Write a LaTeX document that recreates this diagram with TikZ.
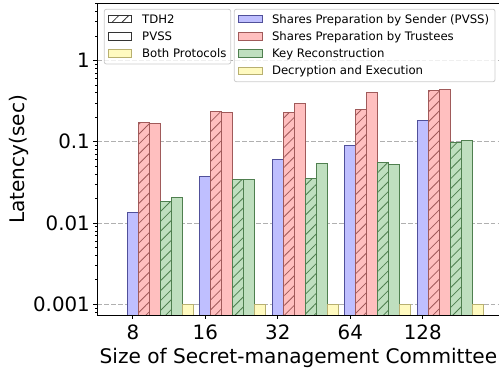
\documentclass[tikz,border=0pt]{standalone}
\usepackage{fontspec}
\setmainfont{DejaVu Sans}
\usetikzlibrary{patterns.meta}
\definecolor{bfill}{HTML}{BFBFFF}
\definecolor{bedge}{HTML}{50509A}
\definecolor{rfill}{HTML}{FFBFBF}
\definecolor{redge}{HTML}{A05A5A}
\definecolor{gfill}{HTML}{BFDFBF}
\definecolor{gedge}{HTML}{4F7F4F}
\definecolor{yfill}{HTML}{FFFAC0}
\definecolor{yedge}{HTML}{B8B070}
\definecolor{gridc}{HTML}{B0B0B0}
\definecolor{legc}{HTML}{CCCCCC}
\newcommand\mybar[3]{\draw[#3] (#1,315.3) rectangle ({#1+11},#2);}
\begin{document}
\begin{tikzpicture}[x=1pt,y=-1pt,
  barB/.style={draw=bedge,fill=bfill,line width=0.9pt},
  barRH/.style={draw=redge,preaction={fill=rfill},pattern={Lines[angle=45,distance=7pt,line width=0.8pt]},pattern color=redge,line width=0.9pt},
  barR/.style={draw=redge,fill=rfill,line width=0.9pt},
  barGH/.style={draw=gedge,preaction={fill=gfill},pattern={Lines[angle=45,distance=7pt,line width=0.8pt]},pattern color=gedge,line width=0.9pt},
  barG/.style={draw=gedge,fill=gfill,line width=0.9pt},
  barY/.style={draw=yedge,fill=yfill,line width=0.9pt},
  gridl/.style={gridc,line width=0.8pt,dash pattern=on 4.8pt off 2.1pt},
  tickl/.style={font=\fontsize{19.8}{23}\selectfont,inner sep=0pt},
  axl/.style={font=\fontsize{20.1}{23}\selectfont,inner sep=0pt},
  legbox/.style={draw=legc,fill=white,fill opacity=0.8,text opacity=1,rounded corners=2pt,line width=0.8pt,inner sep=0pt},
  legpatch/.style={minimum width=23.3pt,minimum height=7.5pt,inner sep=0pt,line width=0.9pt},
  legtext/.style={font=\fontsize{11.7}{14}\selectfont,inner sep=0pt,anchor=base west},
  ]
\useasboundingbox (0,0) rectangle (499,372);
\clip (0,0) rectangle (499,372);
% grid lines
\foreach \e in {0,1,2,3}{
  \pgfmathsetmacro\yy{304.3-81.3*\e}
  \draw[gridl] (97.3,\yy) -- (518,\yy);
}
% bars
\foreach \g/\a/\b/\c/\d/\f in {0/212.3/122.3/123/201/197.7,1/176.7/111.3/112/179.3/179,2/159.3/112.3/103/178.3/163.7,3/145.3/109.3/92.7/162/164.3,4/120.3/90.7/89/142.3/140.3}{
  \pgfmathsetmacro\xx{127.3+72.5*\g}
  \mybar{\xx}{\a}{barB}
  \mybar{\xx+11}{\b}{barRH}
  \mybar{\xx+22}{\c}{barR}
  \mybar{\xx+33}{\d}{barGH}
  \mybar{\xx+44}{\f}{barG}
  \mybar{\xx+55}{304.3}{barY}
}
% spines
\draw[line width=1.1pt] (518,3.3) -- (97.3,3.3) -- (97.3,315.3) -- (518,315.3);
% y ticks major
\foreach \e/\lab in {0/0.001,1/0.01,2/0.1,3/1}{
  \pgfmathsetmacro\yy{304.3-81.3*\e}
  \draw[line width=0.9pt] (97.3,\yy) -- (93.3,\yy);
  \node[tickl,anchor=base east] (yl\e) at (90,\yy+7.1) {\lab};
}
% y ticks minor
\foreach \d in {-4,-3,-2,-1,0}{
  \foreach \m in {2,...,9}{
    \pgfmathsetmacro\lv{\d+log10(\m)}
    \pgfmathsetmacro\yy{304.3-81.3*(\lv+3)}
    \pgfmathparse{(\lv>-3.135 && \lv<0.7) ? 1 : 0}
    \ifnum\pgfmathresult=1
      \draw[line width=0.7pt] (97.3,\yy) -- (95.3,\yy);
    \fi
  }
}
% x ticks
\foreach \g/\lab in {0/8,1/16,2/32,3/64,4/128}{
  \pgfmathsetmacro\xx{132.8+72.5*\g}
  \draw[line width=0.9pt] (\xx,315.3) -- (\xx,319.3);
  \node[tickl,anchor=base] (xl\g) at (\xx,339.3) {\lab};
}
% axis labels
\node[axl,rotate=90] (ylab) at (19,159.3) {Latency(sec)};
\node[axl,anchor=base west] (xlab) at (99.5,363.3) {Size of Secret-management Committee};
% legends
\node[legbox,minimum width=126.4pt,minimum height=54.7pt] (leg1) at (167.5,36.65) {};
\node[legbox,minimum width=260.7pt,minimum height=72.4pt] (leg2) at (364.65,45.5) {};
\node[legpatch,draw=black!80,pattern={Lines[angle=45,distance=7pt,line width=0.8pt]},pattern color=black!80] (p1) at (120,19.1) {};
\node[legpatch,draw=black!80,fill=white] (p2) at (120,36.3) {};
\node[legpatch,draw=yedge,fill=yfill] (p3) at (120,53.5) {};
\node[legtext] (t1) at (142,23.3) {TDH2};
\node[legtext] (t2) at (142,40.5) {PVSS};
\node[legtext] (t3) at (142,57.7) {Both Protocols};
\node[legpatch,draw=bedge,fill=bfill] (q1) at (250.3,19.1) {};
\node[legpatch,draw=redge,fill=rfill] (q2) at (250.3,36.3) {};
\node[legpatch,draw=gedge,fill=gfill] (q3) at (250.3,53.5) {};
\node[legpatch,draw=yedge,fill=yfill] (q4) at (250.3,70.7) {};
\node[legtext] (u1) at (271.8,23.3) {Shares Preparation by Sender (PVSS)};
\node[legtext] (u2) at (271.8,40.5) {Shares Preparation by Trustees};
\node[legtext] (u3) at (271.8,57.7) {Key Reconstruction};
\node[legtext] (u4) at (271.8,74.9) {Decryption and Execution};
\end{tikzpicture}
\end{document}
